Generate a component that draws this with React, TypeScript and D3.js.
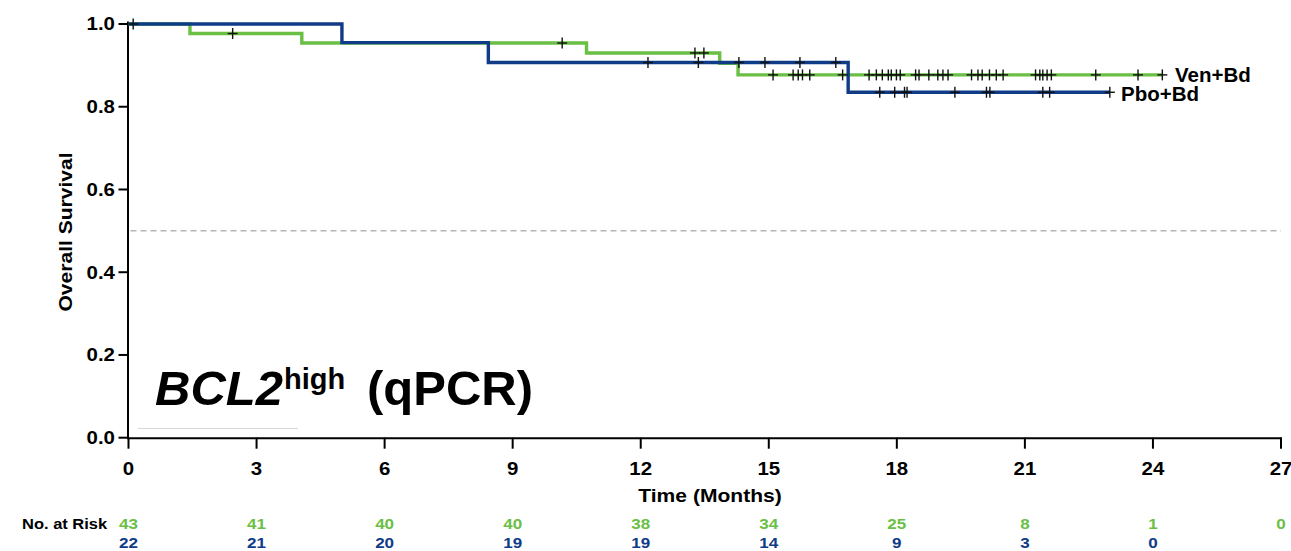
import React from "react";
import * as d3 from "d3";

// ---- data ----
const venTimes = [0, 1.44, 4.06, 10.73, 13.85, 14.28];
const venSurv = [1.0, 0.977, 0.954, 0.93, 0.905, 0.877];
const venEnd = 24.22;
const venCensor = [
  0.11, 2.44, 10.16, 13.27, 13.48, 15.1, 15.57, 15.69, 15.79, 15.96, 16.73, 17.35, 17.52, 17.66, 17.8,
  17.87, 17.99, 18.08, 18.44, 18.52, 18.75, 18.96, 19.08, 19.2, 19.75, 19.9, 20.0, 20.17, 20.33, 20.49,
  21.25, 21.35, 21.42, 21.52, 21.62, 22.66, 23.65, 24.22,
];

const pboTimes = [0, 5.0, 8.43, 16.86];
const pboSurv = [1.0, 0.955, 0.907, 0.835];
const pboEnd = 22.99;
const pboCensor = [12.17, 13.35, 14.3, 14.91, 15.73, 16.57, 17.6, 17.95, 18.18, 18.24, 19.36, 20.1, 20.18, 21.42, 21.58, 22.99];

const xTicks = [0, 3, 6, 9, 12, 15, 18, 21, 24, 27];
const yTicks = [0, 0.2, 0.4, 0.6, 0.8, 1.0];
const riskVen = [43, 41, 40, 40, 38, 34, 25, 8, 1, 0];
const riskPbo = [22, 21, 20, 19, 19, 14, 9, 3, 0];

const GREEN = "#6abf45";
const BLUE = "#103b87";
const FONT = "'Liberation Sans', Arial, Helvetica, sans-serif";

const W = 1291;
const H = 551;

const x = d3.scaleLinear().domain([0, 27]).range([128.5, 1281]);
const y = d3.scaleLinear().domain([0, 1]).range([437.7, 24]);

function stepPoints(times: number[], surv: number[], end: number): [number, number][] {
  const pts: [number, number][] = times.map((t, i) => [t, surv[i]]);
  pts.push([end, surv[surv.length - 1]]);
  return pts;
}

function survAt(times: number[], surv: number[], t: number): number {
  let s = surv[0];
  for (let i = 0; i < times.length; i++) if (times[i] <= t) s = surv[i];
  return s;
}

const line = d3
  .line<[number, number]>()
  .x((d) => x(d[0]))
  .y((d) => y(d[1]))
  .curve(d3.curveStepAfter);

const SX = 1.17;

function T(props: {
  x: number;
  y: number;
  children: React.ReactNode;
  size: number;
  anchor?: string;
  fill?: string;
  rotate?: number;
  sx?: number;
}) {
  const { x: tx, y: ty, children, size, anchor = "middle", fill = "#000", rotate = 0, sx = SX } = props;
  return (
    <text
      transform={`translate(${tx},${ty}) rotate(${rotate}) scale(${sx},1)`}
      fontSize={size}
      fontWeight="bold"
      fontFamily={FONT}
      textAnchor={anchor}
      fill={fill}
    >
      {children}
    </text>
  );
}

function Censors({ times, surv, marks }: { times: number[]; surv: number[]; marks: number[] }) {
  return (
    <g stroke="#111" strokeWidth={1.4}>
      {marks.map((t, i) => {
        const cx = x(t);
        const cy = y(survAt(times, surv, t));
        return (
          <g key={i}>
            <line x1={cx - 5} x2={cx + 5} y1={cy} y2={cy} />
            <line x1={cx} x2={cx} y1={cy - 5.5} y2={cy + 5.5} />
          </g>
        );
      })}
    </g>
  );
}

export default function App() {
  const venPath = line(stepPoints(venTimes, venSurv, venEnd)) || "";
  const pboPath = line(stepPoints(pboTimes, pboSurv, pboEnd)) || "";
  return (
    <svg
      width={W}
      height={H}
      style={{ position: "absolute", left: 0, top: 0, background: "#fff" }}
    >
      {/* median reference line */}
      <line
        x1={x(0) + 2}
        x2={x(27)}
        y1={y(0.5)}
        y2={y(0.5)}
        stroke="#b5b5b5"
        strokeWidth={1.5}
        strokeDasharray="6,4"
      />
      {/* faint line under label */}
      <line x1={138} x2={298} y1={428.5} y2={428.5} stroke="#d8d8d8" strokeWidth={1} />

      {/* axes */}
      <line x1={x(0) - 0.5} x2={x(0) - 0.5} y1={21.5} y2={y(0) + 1} stroke="#000" strokeWidth={2} />
      <line x1={x(0) - 1.5} x2={x(27) + 1} y1={y(0) + 0.5} y2={y(0) + 0.5} stroke="#000" strokeWidth={2} />
      {yTicks.map((v) => (
        <g key={v}>
          <line x1={x(0) - 10} x2={x(0)} y1={y(v)} y2={y(v)} stroke="#000" strokeWidth={2} />
          <T x={115} y={y(v) + 6.3} size={17.5} anchor="end">
            {v.toFixed(1)}
          </T>
        </g>
      ))}
      {xTicks.map((v) => (
        <g key={v}>
          <line x1={x(v)} x2={x(v)} y1={y(0)} y2={y(0) + 11} stroke="#000" strokeWidth={2} />
          <T x={x(v)} y={475} size={17.5}>
            {v}
          </T>
        </g>
      ))}
      <T x={710} y={501.5} size={18}>
        Time (Months)
      </T>
      <T x={72} y={232} size={18} rotate={-90}>
        Overall Survival
      </T>

      {/* curves */}
      <path d={venPath} fill="none" stroke={GREEN} strokeWidth={3.4} />
      <path d={pboPath} fill="none" stroke={BLUE} strokeWidth={3.4} />
      <Censors times={venTimes} surv={venSurv} marks={venCensor} />
      <Censors times={pboTimes} surv={pboSurv} marks={pboCensor} />

      {/* legend labels */}
      <T x={1175} y={81.5} size={20.5} anchor="start" sx={1}>
        Ven+Bd
      </T>
      <T x={1121} y={100.5} size={20.5} anchor="start" sx={1}>
        Pbo+Bd
      </T>

      {/* subgroup label */}
      <text fontFamily={FONT} fontWeight="bold" fill="#000">
        <tspan x={155} y={405} fontSize={49} fontStyle="italic">
          BCL2
        </tspan>
        <tspan x={284} y={389} fontSize={29}>
          high
        </tspan>
        <tspan x={367} y={405} fontSize={49}>
          (qPCR)
        </tspan>
      </text>

      {/* number at risk */}
      <T x={22} y={529} size={15} anchor="start" sx={1.1}>
        No. at Risk
      </T>
      {riskVen.map((n, i) => (
        <T key={"v" + i} x={x(xTicks[i])} y={529} size={15.5} fill={GREEN} sx={1.1}>
          {n}
        </T>
      ))}
      {riskPbo.map((n, i) => (
        <T key={"p" + i} x={x(xTicks[i])} y={547.5} size={15.5} fill={BLUE} sx={1.1}>
          {n}
        </T>
      ))}
    </svg>
  );
}
